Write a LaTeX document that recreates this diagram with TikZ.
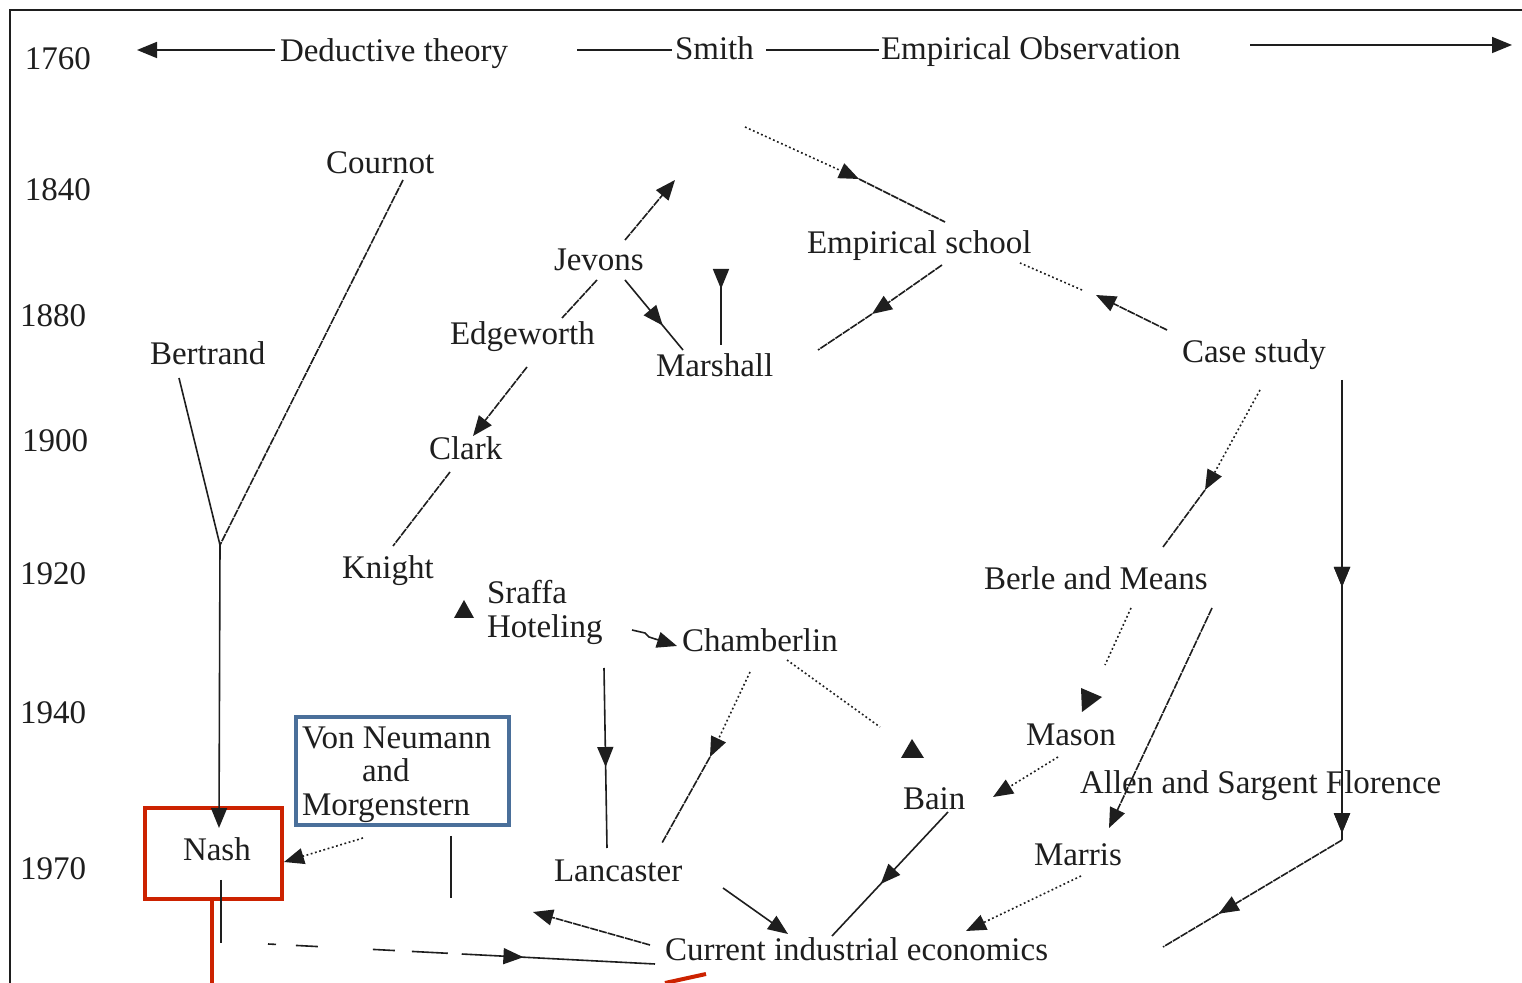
\documentclass[tikz,border=0pt]{standalone}
\usepackage{fontspec}
\setmainfont{Liberation Serif}
\usetikzlibrary{arrows.meta,decorations.markings}
\definecolor{ink}{HTML}{1E1E1E}
\definecolor{boxred}{HTML}{CC2200}
\definecolor{boxblue}{HTML}{4A6F9A}
\tikzset{
  lbl/.style={anchor=base west, inner sep=0pt, outer sep=0pt, font=\fontsize{16.5}{19}\selectfont, text=ink},
  conn/.style={draw=ink, line width=0.8pt},
  tip/.style={-{Triangle[length=10pt,width=8pt]}},
  rtip/.style={-{Triangle[length=10pt,width=8pt,reversed]}},
  dots/.style={dash pattern=on 0.9pt off 1.3pt},
  dens/.style={dash pattern=on 4pt off 0.5pt},
  midtip/.style={postaction={decorate}, decoration={markings, mark=at position #1 with {\arrow[solid]{Triangle[length=10pt,width=8pt]}}}},
  headtri/.style={fill=ink, draw=none},
}
\begin{document}
\begin{tikzpicture}[x=0.5pt,y=-0.5pt]
\useasboundingbox (0,0) rectangle (1522,983);
\fill[white] (0,0) rectangle (1522,983);
% frame
\draw[line width=1pt, ink] (1522,10) -- (10,10) -- (10,983);

% ---- year labels
\node[lbl] (y1760) at (25,70) {1760};
\node[lbl] (y1840) at (25,201) {1840};
\node[lbl] (y1880) at (20,327) {1880};
\node[lbl] (y1900) at (22,452) {1900};
\node[lbl] (y1920) at (20,585) {1920};
\node[lbl] (y1940) at (20,724) {1940};
\node[lbl] (y1970) at (20,879) {1970};

% ---- top row
\node[lbl] (ded) at (280,62) {Deductive theory};
\node[lbl] (smith) at (675,60) {Smith};
\node[lbl] (empobs) at (881,60) {Empirical Observation};

% ---- names
\node[lbl] (cournot) at (326,174) {Cournot};
\node[lbl] (jevons) at (554,271) {Jevons};
\node[lbl] (empsch) at (807,254) {Empirical school};
\node[lbl] (edgew) at (450,345) {Edgeworth};
\node[lbl] (marshall) at (656,377) {Marshall};
\node[lbl] (bertrand) at (150,365) {Bertrand};
\node[lbl] (casest) at (1182,363) {Case study};
\node[lbl] (clark) at (429,460) {Clark};
\node[lbl] (knight) at (342,579) {Knight};
\node[lbl] (sraffa) at (487,604) {Sraffa};
\node[lbl] (hotel) at (487,638) {Hoteling};
\node[lbl] (chamb) at (682,652) {Chamberlin};
\node[lbl] (berle) at (984,590) {Berle and Means};
\node[lbl] (vn1) at (302,749) {Von Neumann};
\node[lbl] (vn2) at (362,782) {and};
\node[lbl] (vn3) at (302,816) {Morgenstern};
\node[lbl] (mason) at (1026,746) {Mason};
\node[lbl] (bain) at (903,810) {Bain};
\node[lbl] (allen) at (1080,794) {Allen and Sargent Florence};
\node[lbl] (nash) at (183,861) {Nash};
\node[lbl] (marris) at (1034,865) {Marris};
\node[lbl] (lanc) at (554,882) {Lancaster};
\node[lbl] (cie) at (665,960) {Current industrial economics};

% ---- highlight boxes
\draw[boxblue, line width=1.6pt] (296,717) rectangle (509,825);
\draw[boxred, line width=2pt] (145,808) rectangle (282,899);
\draw[boxred, line width=2pt] (212,899) -- (212,983);
\draw[boxred, line width=2pt] (665,983) -- (706,974);

% ---- connector end points
\coordinate (t1a) at (275,50);  \coordinate (t1b) at (137,50);
\coordinate (t2a) at (577,50);  \coordinate (t2b) at (672,50);
\coordinate (t3a) at (766,50);  \coordinate (t3b) at (879,50);
\coordinate (t4a) at (1250,45); \coordinate (t4b) at (1512,45);
\coordinate (cou) at (403,180); \coordinate (ber) at (179,378);
\coordinate (jn) at (220,545);  \coordinate (nashT) at (219,828);
\coordinate (ns1) at (221,880); \coordinate (ns2) at (221,943);
\coordinate (nd1) at (268,944); \coordinate (nd2) at (655,964);
\coordinate (cu1) at (650,945); \coordinate (cu2) at (533,912);
\coordinate (vb1) at (451,836); \coordinate (vb2) at (451,898);
\coordinate (vd1) at (363,838); \coordinate (vd2) at (284,862);
\coordinate (ho1) at (604,668); \coordinate (ho2) at (607,848);
\coordinate (hc1) at (632,630); \coordinate (hc2) at (645,633);
\coordinate (hc3) at (649,637); \coordinate (hc4) at (677,646);
\coordinate (ch1) at (750,672); \coordinate (ch2) at (710,757); \coordinate (la1) at (662,843);
\coordinate (ch3) at (787,660); \coordinate (ch4) at (880,727);
\coordinate (bm1) at (1131,608); \coordinate (bm2) at (1105,665);
\coordinate (bm3) at (1212,608); \coordinate (ma1) at (1109,828);
\coordinate (mb1) at (1058,757); \coordinate (mb2) at (993,797);
\coordinate (ba1) at (948,812); \coordinate (ba2) at (832,936);
\coordinate (lc1) at (723,888); \coordinate (lc2) at (788,934);
\coordinate (mc1) at (1081,876); \coordinate (mc2) at (966,931);
\coordinate (cs1) at (1342,380); \coordinate (cs2) at (1342,840); \coordinate (cs3) at (1163,947);
\coordinate (cb1) at (1260,390); \coordinate (cb2) at (1205,490); \coordinate (cb3) at (1163,547);
\coordinate (ce1) at (1167,330); \coordinate (ce2) at (1096,295);
\coordinate (ce3) at (1082,290); \coordinate (ce4) at (1020,263);
\coordinate (se1) at (745,127); \coordinate (se2) at (859,179); \coordinate (se3) at (945,222);
\coordinate (em1) at (942,265); \coordinate (em2) at (872,314); \coordinate (em3) at (818,350);
\coordinate (mv1) at (721,345); \coordinate (mv2) at (721,269);
\coordinate (jm1) at (625,280); \coordinate (jm2) at (683,350);
\coordinate (ju1) at (625,240); \coordinate (ju2) at (675,180);
\coordinate (je1) at (597,280); \coordinate (je2) at (562,318);
\coordinate (ec1) at (527,367); \coordinate (ec2) at (473,436);
\coordinate (ck1) at (450,472); \coordinate (ck2) at (393,546);

% ---- top axis arrows
\draw[conn,tip] (t1a) -- (t1b);
\draw[conn] (t2a) -- (t2b);
\draw[conn] (t3a) -- (t3b);
\draw[conn,tip] (t4a) -- (t4b);

% ---- deductive branch
\draw[conn,dens] (cou) -- (jn);
\draw[conn] (ber) -- (jn);
\draw[conn,tip] (jn) -- (nashT);
\draw[conn] (ns1) -- (ns2);
\draw[conn, dash pattern=on 4pt off 10pt on 11pt off 27.5pt on 11pt off 8.5pt on 18pt off 7pt on 200pt, midtip=0.66] (nd1) -- (nd2);
\draw[conn,dens,tip] (cu1) -- (cu2);
\draw[conn] (vb1) -- (vb2);
\draw[conn,dots,tip] (vd1) -- (vd2);

% ---- middle
\draw[conn,midtip=0.55] (ho1) -- (ho2);
\fill[headtri] (454,618) -- (464,600) -- (474,618) -- cycle;
\draw[conn,tip] (hc1) -- (hc2) -- (hc3) -- (hc4);
\draw[conn,dots,tip] (ch1) -- (ch2);
\draw[conn,dens] (ch2) -- (la1);
\draw[conn,dots] (ch3) -- (ch4);
\fill[headtri] (901,758) -- (912,739) -- (924,758) -- cycle;
\draw[conn,dots] (bm1) -- (bm2);
\fill[headtri] (1081,688) -- (1102,697) -- (1082,712) -- cycle;
\draw[conn,dens,tip] (bm3) -- (ma1);
\draw[conn,dots,tip] (mb1) -- (mb2);
\draw[conn,midtip=0.58] (ba1) -- (ba2);
\draw[conn,tip] (lc1) -- (lc2);
\draw[conn,dots,tip] (mc1) -- (mc2);

% ---- empirical branch
\draw[conn,line width=0.9pt,midtip=0.45,midtip=0.985] (cs1) -- (cs2);
\draw[conn,dens,midtip=0.69] (cs2) -- (cs3);
\draw[conn,dots,tip] (cb1) -- (cb2);
\draw[conn,dens] (cb2) -- (cb3);
\draw[conn,dens,tip] (ce1) -- (ce2);
\draw[conn,dots] (ce3) -- (ce4);
\draw[conn,dots,tip] (se1) -- (se2);
\draw[conn,dens] (se2) -- (se3);
\draw[conn,dens,tip] (em1) -- (em2);
\draw[conn,dens] (em2) -- (em3);
\draw[conn,rtip] (mv1) -- (mv2);
\draw[conn,midtip=0.65] (jm1) -- (jm2);
\draw[conn,dens,tip] (ju1) -- (ju2);
\draw[conn,dens] (je1) -- (je2);
\draw[conn,dens,tip] (ec1) -- (ec2);
\draw[conn,dens] (ck1) -- (ck2);
\end{tikzpicture}
\end{document}
